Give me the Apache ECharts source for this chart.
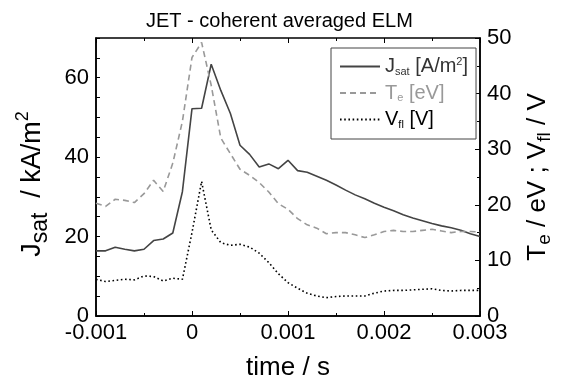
<!DOCTYPE html>
<html><head><meta charset="utf-8">
<script src="https://cdn.jsdelivr.net/npm/echarts@6/dist/echarts.min.js"></script>
<style>html,body{margin:0;padding:0;background:#fff}#c{width:562px;height:386px}</style>
</head><body><div id="c"></div>
<script>
// time in seconds, step 0.0001 s
const time = [];
for (let i = 0; i <= 40; i++) time.push(+(-0.001 + i * 0.0001).toFixed(4));
const jsat = [16.4,16.4,17.3,16.8,16.4,16.8,19.0,19.4,20.9,31.3,52.2,52.3,63.4,56.8,51.0,43.0,40.7,37.5,38.3,37.1,39.2,36.6,36.2,35.2,34.2,33.0,31.7,30.5,29.5,28.4,27.4,26.5,25.5,24.7,24.0,23.3,22.7,22.2,21.6,20.7,20.0];
const te = [20.3,19.7,21.0,20.8,20.4,22.0,24.4,22.4,27.5,35.0,46.5,49.2,41.5,32.0,29.2,26.4,25.3,24.0,22.3,20.2,19.2,17.5,16.4,15.8,14.8,15.0,15.0,14.6,14.1,14.6,15.2,15.4,15.2,15.2,15.4,15.6,15.3,15.0,15.2,15.2,15.1];
const vfl = [6.6,6.2,6.4,6.6,6.5,7.2,7.1,6.3,6.8,6.6,15.0,24.2,15.5,13.2,12.7,12.9,12.4,11.3,9.6,7.6,6.0,5.0,4.1,3.6,3.3,3.5,3.6,3.6,3.6,4.1,4.5,4.6,4.6,4.7,4.8,4.9,4.6,4.5,4.6,4.6,4.6];
const xTicks = [-0.001, 0, 0.001, 0.002, 0.003];
const leftLabels = [0, 20, 40, 60];
const rightLabels = [0, 10, 20, 30, 40, 50];

const FONT = '"Liberation Sans", Arial, sans-serif';
const pair = (xs, ys) => xs.map((x, i) => [x, ys[i]]);
const chart = echarts.init(document.getElementById('c'), null, {renderer: 'canvas'});
const tickStyle = {inside: true, length: 5, lineStyle: {color: '#000', width: 1}};
const minorStyle = {show: true, length: 3, lineStyle: {color: '#000', width: 1}};
chart.setOption({
  animation: false,
  backgroundColor: '#fff',
  title: {
    text: 'JET - coherent averaged ELM', left: 141, top: 6,
    textStyle: {fontFamily: FONT, fontSize: 20, fontWeight: 'normal', color: '#000'}
  },
  grid: {left: 96, right: 82, top: 38, bottom: 64, show: true, borderColor: '#000', borderWidth: 1.5, backgroundColor: 'transparent'},
  legend: {
    orient: 'vertical', left: 331, top: 48, width: 140,
    padding: [8, 8, 9, 8], itemGap: 6, itemWidth: 40, itemHeight: 14,
    borderColor: '#444', borderWidth: 1, backgroundColor: '#fff',
    itemStyle: {color: 'rgba(0,0,0,0)', borderWidth: 0, opacity: 0},
    data: [
      {name: 'Jsat', textStyle: {color: '#333'}},
      {name: 'Te', textStyle: {color: '#999'}},
      {name: 'Vfl', textStyle: {color: '#000'}}
    ],
    formatter: n => n === 'Jsat' ? 'J{sub|sat} [A/m{sup|2}]' : n === 'Te' ? 'T{sub|e} [eV]' : 'V{sub|fl} [V]',
    textStyle: {fontFamily: FONT, fontSize: 20, rich: {
      sub: {fontFamily: FONT, fontSize: 11, verticalAlign: 'bottom', padding: [10, 0, 0, 0]},
      sup: {fontFamily: FONT, fontSize: 11, verticalAlign: 'top', padding: [0, 0, 10, 0]}
    }}
  },
  xAxis: [{
    type: 'value', min: xTicks[0], max: xTicks[xTicks.length - 1], interval: 0.001,
    name: 'time / s', nameLocation: 'middle', nameGap: 39,
    nameTextStyle: {fontFamily: FONT, fontSize: 26, color: '#000'},
    axisLine: {onZero: false, lineStyle: {color: '#000', width: 1.5}},
    axisTick: tickStyle, minorTick: Object.assign({splitNumber: 2}, minorStyle),
    splitLine: {show: false},
    axisLabel: {fontFamily: FONT, fontSize: 22, color: '#000', margin: 6,
      formatter: v => String(+v.toFixed(3))}
  }, {
    type: 'value', position: 'top', min: xTicks[0], max: xTicks[xTicks.length - 1], interval: 0.001,
    axisLine: {show: false, onZero: false}, axisTick: tickStyle, minorTick: Object.assign({splitNumber: 2}, minorStyle),
    splitLine: {show: false}, axisLabel: {show: false}
  }],
  yAxis: [{
    type: 'value', position: 'left', min: 0, max: 70, interval: 5,
    name: 'J{sub|sat}  / kA/m{sup|2}', nameLocation: 'middle', nameGap: 44, nameRotate: 90,
    nameTextStyle: {fontFamily: FONT, fontSize: 27, color: '#000', padding: [0, 14, 0, 0], rich: {
      sub: {fontFamily: FONT, fontSize: 23, verticalAlign: 'bottom', padding: [15, 0, 0, 0]},
      sup: {fontFamily: FONT, fontSize: 18, verticalAlign: 'top', padding: [0, 0, 14, 0]}
    }},
    axisLine: {show: true, onZero: false, lineStyle: {color: '#000', width: 1.5}},
    axisTick: {inside: true, length: 4, lineStyle: {color: '#000', width: 1}},
    splitLine: {show: false},
    axisLabel: {fontFamily: FONT, fontSize: 22, color: '#000', margin: 7,
      formatter: v => leftLabels.includes(v) ? String(v) : ''}
  }, {
    type: 'value', position: 'right', min: 0, max: 50, interval: 10,
    name: 'T{sub|e} / eV ; V{sub|fl} / V', nameLocation: 'middle', nameGap: 41, nameRotate: 90,
    nameTextStyle: {fontFamily: FONT, fontSize: 26, color: '#000', rich: {
      sub: {fontFamily: FONT, fontSize: 19, verticalAlign: 'bottom', padding: [14, 0, 0, 0]}
    }},
    axisLine: {show: true, onZero: false, lineStyle: {color: '#000', width: 1.5}},
    axisTick: tickStyle, minorTick: Object.assign({splitNumber: 2}, minorStyle),
    splitLine: {show: false},
    axisLabel: {fontFamily: FONT, fontSize: 22, color: '#000', margin: 7,
      formatter: v => rightLabels.includes(v) ? String(v) : ''}
  }],
  series: [
    {name: 'Jsat', type: 'line', yAxisIndex: 0, symbol: 'none', data: pair(time, jsat),
      lineStyle: {color: '#444', width: 1.6, type: 'solid'}, itemStyle: {color: '#444'}},
    {name: 'Te', type: 'line', yAxisIndex: 1, symbol: 'none', data: pair(time, te),
      lineStyle: {color: '#999', width: 1.6, type: [6, 4]}, itemStyle: {color: '#999'}},
    {name: 'Vfl', type: 'line', yAxisIndex: 1, symbol: 'none', data: pair(time, vfl),
      lineStyle: {color: '#000', width: 1.6, type: [1.6, 2.6]}, itemStyle: {color: '#000'}}
  ]
});
</script>
</body></html>
